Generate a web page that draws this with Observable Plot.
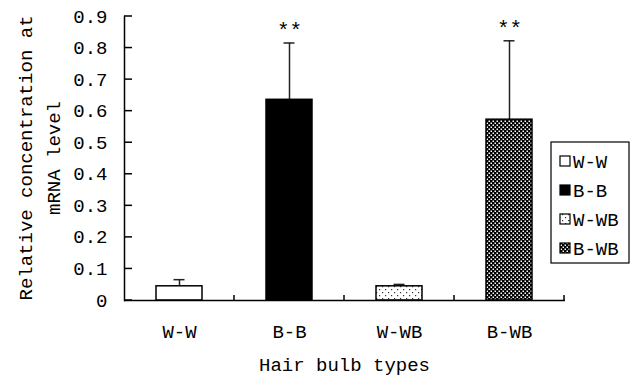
<!DOCTYPE html>
<html>
<head>
<meta charset="utf-8">
<script src="https://cdn.jsdelivr.net/npm/d3@7"></script>
<script src="https://cdn.jsdelivr.net/npm/@observablehq/plot@0.6"></script>
<style>
  html, body { margin: 0; padding: 0; background: white; }
</style>
</head>
<body>
<div id="chart"></div>
<script>
const categories = ["W-W", "B-B", "W-WB", "B-WB"];
const means = [0.045, 0.636, 0.045, 0.573];
const errors = [0.021, 0.180, 0.006, 0.250];
const significance = ["", "**", "", "**"];
const fills = ["white", "black", "url(#dots)", "url(#checks)"];
const yTicks = [0, 0.1, 0.2, 0.3, 0.4, 0.5, 0.6, 0.7, 0.8, 0.9];
const yTitle = ["Relative concentration at", "mRNA level"];
const xTitle = "Hair bulb types";

const rows = categories.map((c, i) => ({cat: c, mean: means[i], err: errors[i], top: means[i] + errors[i], sig: significance[i]}));

const FONT = "Liberation Mono";

const plot = Plot.plot({
  width: 632,
  height: 377,
  marginLeft: 124,
  marginRight: 67,
  marginTop: 16,
  marginBottom: 77,
  style: {fontFamily: FONT, fontSize: "19px", background: "white", color: "black", overflow: "visible"},
  x: {domain: categories, paddingInner: 0.58, paddingOuter: 0.29, label: null},
  y: {domain: [0, 0.9], label: null},
  marks: [
    Plot.axisY({ticks: yTicks, tickSize: 0, tickPadding: 17, tickFormat: d3.format("~g"), label: null}),
    Plot.axisX({tickSize: 0, tickPadding: 24, label: null}),
    Plot.ruleX(rows, {x: "cat", y1: "mean", y2: "top", stroke: "#222", strokeWidth: 1.5}),
    Plot.tickY(rows, {x: "cat", y: "top", stroke: "#222", strokeWidth: 1.5, insetLeft: 17.5, insetRight: 17.5}),
    ...rows.map((r, i) => Plot.barY([r], {x: "cat", y: "mean", fill: fills[i], stroke: "black", strokeWidth: 1.5})),
    Plot.text(rows.filter(r => r.sig), {x: "cat", y: "top", text: "sig", dy: -13, fontSize: 21, fill: "black"}),
    Plot.frame({anchor: "left", stroke: "black", strokeWidth: 1.5}),
    Plot.ruleY([0], {stroke: "black", strokeWidth: 1.5})
  ]
});

const svg = d3.select(plot);
const defs = svg.insert("defs", ":first-child");
const dots = defs.append("pattern").attr("id", "dots").attr("patternUnits", "userSpaceOnUse")
  .attr("width", 6).attr("height", 6);
dots.append("rect").attr("width", 6).attr("height", 6).attr("fill", "white");
dots.append("rect").attr("x", 1).attr("y", 1).attr("width", 1.2).attr("height", 1.2).attr("fill", "#333");
dots.append("rect").attr("x", 4).attr("y", 4).attr("width", 1.2).attr("height", 1.2).attr("fill", "#333");

const checks = defs.append("pattern").attr("id", "checks").attr("patternUnits", "userSpaceOnUse")
  .attr("width", 4).attr("height", 4);
checks.append("rect").attr("width", 4).attr("height", 4).attr("fill", "black");
checks.append("rect").attr("x", 0.5).attr("y", 0.5).attr("width", 1.5).attr("height", 1.5).attr("fill", "white");
checks.append("rect").attr("x", 2.5).attr("y", 2.5).attr("width", 1.5).attr("height", 1.5).attr("fill", "white");

const sx = plot.scale("x");
const sy = plot.scale("y");
const x0 = sx.range[0];
const g = svg.append("g").attr("stroke", "black").attr("stroke-width", 1.5);
// inner y ticks
yTicks.forEach(t => {
  g.append("line").attr("x1", x0).attr("x2", x0 + 8).attr("y1", sy.apply(t)).attr("y2", sy.apply(t));
});
// x category boundary ticks
categories.forEach(c => {
  const bx = sx.apply(c) + sx.bandwidth / 2 + sx.step / 2;
  g.append("line").attr("x1", bx).attr("x2", bx).attr("y1", sy.apply(0)).attr("y2", sy.apply(0) - 5);
});

// axis titles
const yMid = (sy.range[0] + sy.range[1]) / 2;
[25, 53].forEach((cx, i) => {
  svg.append("text").attr("transform", `translate(${cx},${yMid}) rotate(-90)`)
    .attr("text-anchor", "middle").attr("dy", "0.35em")
    .attr("font-family", FONT).attr("font-size", 19).attr("fill", "black")
    .text(yTitle[i]);
});
svg.append("text").attr("x", (sx.range[0] + sx.range[1]) / 2).attr("y", 371)
  .attr("text-anchor", "middle").attr("font-family", FONT).attr("font-size", 19).attr("fill", "black")
  .text(xTitle);

// legend
const lg = svg.append("g");
lg.append("rect").attr("x", 551).attr("y", 142).attr("width", 78).attr("height", 121)
  .attr("fill", "white").attr("stroke", "black").attr("stroke-width", 1.2);
categories.forEach((c, i) => {
  const cy = 161 + i * 29;
  lg.append("rect").attr("x", 560).attr("y", cy - 5).attr("width", 10).attr("height", 10)
    .attr("fill", fills[i]).attr("stroke", "black").attr("stroke-width", 1.2);
  lg.append("text").attr("x", 573).attr("y", cy).attr("dy", "0.35em").attr("text-anchor", "start")
    .attr("font-family", FONT).attr("font-size", 19).attr("fill", "black").text(c);
});

document.getElementById("chart").appendChild(plot);
</script>
</body>
</html>
